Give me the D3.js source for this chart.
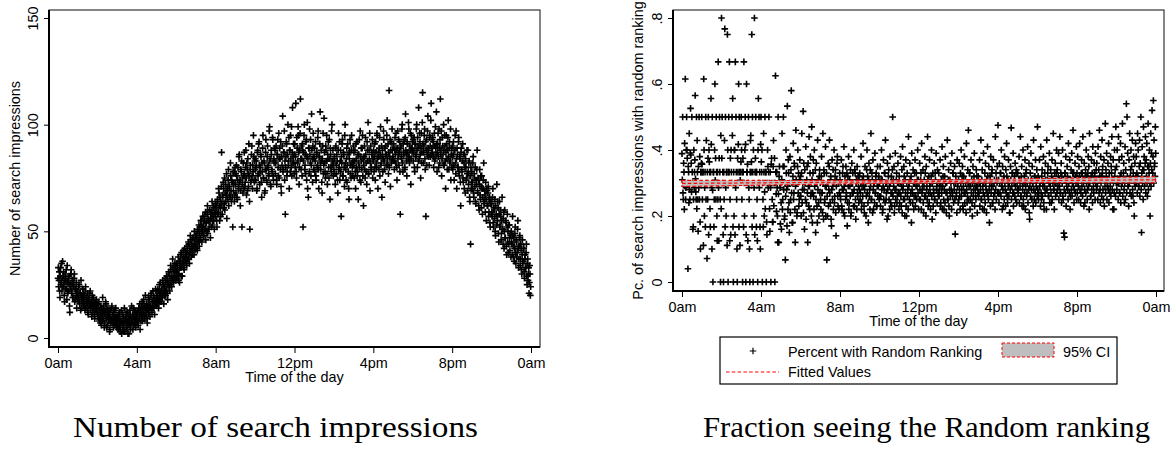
<!DOCTYPE html>
<html>

<head>
    <meta charset="utf-8">
    <style>
        body {
            margin: 0;
            background: #fff;
        }

        svg {
            display: block;
            font-family: 'Liberation Sans', Arial, sans-serif;
        }

        .tick text {
            font-size: 14.4px;
            fill: #000;
        }

        .tick line {
            stroke: #000;
        }

        .domain {
            display: none;
        }

        .axis-title,
        .legend-text {
            font-size: 14.4px;
            fill: #000;
        }

        .caption {
            font-family: 'Liberation Serif', 'DejaVu Serif', serif;
            font-size: 30px;
            fill: #000;
        }
    </style>
</head>

<body>
    <svg width="1173" height="451"></svg>

    <script src="https://d3js.org/d3.v7.min.js"></script>
    <script>
        // one observation per minute, 60 per row = one hour, starting at midnight
        let stepMinutes = 1

        // number of search impressions
        let impressions = [
            28,33,24,27,31,22,19,29,33,25,26,35,22,28,36,24,29,31,25,20,17,27,30,23,27,32,23,18,34,26,21,28,26,22,29,15,12,25,24,30,32,21,22,26,27,19,19,24,25,28,30,17,18,23,23,20,26,14,21,19, // 0am
            22,19,18,24,25,17,16,21,21,13,27,20,14,18,19,23,23,15,17,20,20,16,13,22,24,14,18,19,15,17,21,12,11,18,19,15,16,21,22,13,14,17,17,10,20,16,12,19,18,14,15,11,9,16,17,13,13,18,16,12,
            14,11,10,16,17,9,8,13,12,7,15,10,6,14,11,8,19,12,9,15,13,5,7,11,12,17,16,9,5,13,10,6,14,10,8,12,11,3,4,9,13,7,9,14,15,8,7,11,10,5,12,9,6,13,9,7,14,10,8,5,
            7,9,10,5,4,11,9,6,12,3,5,8,8,13,2,7,11,4,6,10,9,3,14,7,3,9,8,12,10,5,5,8,12,2,7,10,2,6,9,13,11,4,6,9,15,7,8,11,4,14,10,6,13,9,7,12,9,5,11,8,
            9,11,12,7,6,13,14,9,10,16,4,12,13,8,11,15,17,10,8,13,12,18,15,10,9,14,20,12,11,16,14,9,7,13,16,19,13,11,18,15,10,14,15,20,21,13,12,17,17,22,14,19,19,15,11,18,16,23,22,17, // 4am
            15,20,19,16,23,18,14,22,18,25,21,17,26,20,17,23,22,19,19,27,25,21,16,24,24,20,28,22,20,26,23,29,27,21,18,25,26,31,30,24,22,28,25,34,32,26,24,29,28,37,33,27,26,31,29,34,35,28,27,32,
            31,35,28,32,34,30,38,27,30,36,26,33,36,39,33,29,40,34,29,37,35,41,38,33,32,36,42,38,36,40,39,35,34,43,41,37,37,45,44,39,35,42,40,48,46,41,38,44,43,39,41,47,47,43,39,50,45,41,42,48,
            44,47,48,42,41,51,50,45,46,53,43,49,52,46,47,55,55,50,45,52,50,57,53,48,48,55,57,51,51,59,46,54,54,50,58,62,49,56,55,51,52,60,60,55,47,58,56,52,59,64,53,57,62,55,55,61,51,58,58,63,
            57,60,62,55,52,64,65,58,59,70,68,62,55,66,61,57,64,71,87,63,58,67,66,73,70,61,63,75,60,68,72,64,67,77,56,70,69,65,74,79,62,71,71,67,66,82,76,69,64,74,73,66,52,78,69,72,78,64,67,80, // 8am
            72,77,68,81,76,66,65,74,80,70,71,85,86,73,74,62,69,79,78,83,52,72,75,68,82,76,70,87,77,71,73,80,88,75,67,82,79,69,84,77,71,91,76,64,51,79,81,73,74,86,90,76,70,81,78,95,85,74,73,83,
            79,84,74,80,83,69,70,87,88,76,77,91,92,81,72,78,80,86,85,73,66,82,78,89,95,75,75,83,82,68,69,79,87,93,79,74,73,85,90,80,81,77,76,97,99,83,84,72,71,88,86,79,78,94,93,76,74,84,82,89,
            83,88,77,82,90,74,72,86,86,93,80,76,96,84,75,89,84,79,92,71,68,85,81,90,104,78,79,87,87,97,74,83,58,80,85,92,91,76,78,86,100,81,83,94,70,88,88,78,95,84,80,99,76,87,108,82,85,91,82,77,
            86,91,80,85,110,78,75,94,89,82,83,99,95,87,72,80,88,96,112,84,79,90,84,76,91,88,52,83,87,95,100,79,81,86,77,92,93,74,85,101,70,84,66,89,89,78,98,86,82,93,76,81,105,88,84,73,90,96,79,85, // 12pm
            84,89,78,83,92,76,74,86,87,80,81,94,97,79,70,85,85,91,106,82,79,88,83,73,68,84,90,96,77,81,103,87,82,78,75,90,88,83,95,77,72,86,84,92,80,75,93,84,65,89,86,80,78,97,100,83,81,88,76,82,
            79,84,85,77,72,89,90,81,77,86,83,74,68,88,96,79,80,92,74,83,88,78,57,85,82,91,93,76,76,87,86,80,71,95,100,82,79,74,84,89,73,81,91,86,78,70,65,84,87,93,81,77,75,88,95,82,80,76,83,90,
            81,87,75,83,88,78,70,91,84,80,92,76,78,86,65,82,86,93,80,74,97,85,73,89,83,79,89,95,76,84,62,81,85,90,79,75,94,86,82,78,72,92,88,83,101,77,77,88,84,96,69,82,90,79,80,87,86,93,75,84,
            83,88,78,85,91,80,74,92,87,82,80,96,95,84,70,87,85,79,89,94,76,86,99,81,82,90,66,85,88,78,84,97,93,83,79,89,73,86,90,81,86,95,102,84,81,91,77,87,116,80,85,93,71,88,92,82,83,98,88,84, // 4pm
            85,91,90,83,79,88,94,86,82,96,88,80,74,89,97,84,86,93,81,87,92,78,58,90,89,85,84,98,100,82,78,91,87,86,93,79,80,94,105,88,86,83,76,92,91,87,84,101,98,85,82,90,88,96,72,84,95,89,87,92,
            88,93,83,87,94,80,78,91,91,85,86,98,100,88,80,94,89,83,108,90,84,96,92,86,75,89,96,82,87,101,115,91,82,87,90,95,98,84,79,92,57,88,93,81,86,97,104,89,88,85,81,94,95,90,85,102,110,86,89,93,
            87,94,92,85,80,90,96,83,84,99,89,86,106,91,78,87,91,96,85,80,98,89,82,93,112,86,88,97,76,84,94,90,86,81,100,88,81,95,90,83,70,87,95,91,84,79,88,94,102,85,79,89,92,82,83,98,74,86,89,80,
            85,90,79,86,92,81,74,88,88,95,82,77,97,84,70,89,86,80,80,92,94,78,76,85,84,73,62,87,89,79,78,83,91,75,73,86,82,70,86,80,68,84,80,74,75,88,77,69,88,78,72,82,83,66,64,76,44,80,70,73, // 8pm
            78,73,70,82,85,68,66,77,75,71,80,64,63,74,72,79,88,69,68,75,74,62,60,72,79,67,65,76,71,61,76,70,58,66,70,74,82,63,64,69,67,59,73,65,55,70,69,62,62,68,71,57,59,65,66,54,52,63,64,58,
            63,59,57,66,70,54,52,61,60,56,65,50,48,62,58,53,72,57,55,64,61,49,45,58,64,52,53,60,57,46,49,55,66,51,51,44,56,59,42,50,60,47,47,55,54,43,39,52,58,45,50,40,44,53,53,47,41,49,48,38,
            50,45,44,39,57,48,38,43,47,36,42,49,52,40,35,46,45,38,40,51,55,42,33,37,43,47,48,34,37,44,41,32,30,39,46,35,36,42,42,31,28,37,39,33,33,40,44,29,25,35,37,27,30,33,21,26,34,30,20,24
        ]

        // share of those impressions that got the random ranking
        let randomShare = [
            .389,.31,.5,.27,.25,.36,.333,.22,.42,.29,.615,.25,.286,.4,.5,.4,.375,.3,.04,.35,.333,.24,.45,.28,.25,.391,.526,.385,.36,.273,.5,.333,.3,.16,.167,.25,.4,.286,.333,.37,.565,.313,.273,.25,.5,.222,.429,.333,.25,.154,.35,.286,.5,.25,.38,.182,.1,.333,.333,.36, // 0am
            .5,.357,.25,.333,.333,.111,.615,.4,.2,.286,.333,.167,.5,.25,.429,.3,.071,.333,.25,.375,.5,.143,.4,.364,.333,.222,.167,.333,.556,.417,.286,.1,.5,.278,0,.333,.333,.167,.25,.4,.6,.308,.375,.25,.5,.333,.2,.125,.333,.25,.667,.286,.125,.375,.5,.333,.25,0,.444,.222,
            .8,.375,.5,.3,.333,.143,0,.333,.25,.429,.767,.167,.5,.286,.2,.333,.333,.111,.75,.4,0,.333,.5,.333,.667,.125,.25,.375,.143,.4,.333,.3,.5,.444,.556,.167,0,.333,.2,.4,.4,.143,.667,.286,.5,.333,.25,.1,0,.375,.333,.417,.6,.167,.5,.333,.111,.308,.333,.364,
            .5,.4,.25,.333,0,.375,.333,.167,.667,.3,.2,.4,.5,.417,0,.143,.6,.333,.333,.357,.125,.3,.5,.286,.25,.1,0,.333,.429,.444,.333,.364,.75,.167,.5,.333,0,.4,.2,.286,.8,.143,.333,.375,.5,.333,.167,.333,.25,.125,0,.4,.556,.3,.5,.286,.333,.167,.1,.417,
            .5,.364,.333,.4,0,.3,.25,.167,.45,.333,.2,.273,.5,.222,.333,.333,0,.182,.143,.3,.4,.35,.286,.333,.5,.3,.222,.154,.333,.286,0,.357,.375,.3,.25,.182,.182,.35,.429,.231,.3,.375,0,.3,.625,.333,.267,.214,.333,.286,.2,.12,.5,.267,.12,.32,.35,.3,.286,.176, // 4am
            .3,.24,.16,.31,.45,.22,.25,.35,.5,.28,.35,.19,.2,.3,.067,.26,.4,.33,.28,.17,.533,.29,.22,.37,.33,.24,.15,.3,.38,.21,.25,.34,.58,.27,.3,.18,.18,.32,.42,.25,.27,.36,.35,.22,.12,.29,.46,.31,.3,.2,.21,.35,.4,.27,.33,.23,.25,.31,.37,.26,
            .32,.26,.2,.33,.45,.24,.28,.3,.517,.21,.36,.28,.16,.34,.3,.25,.41,.19,.24,.31,.35,.27,.12,.36,.29,.23,.44,.29,.22,.33,.38,.26,.27,.2,.47,.31,.18,.27,.33,.37,.26,.22,.4,.29,.3,.34,.15,.25,.36,.3,.23,.18,.43,.28,.31,.24,.2,.32,.34,.27,
            .3,.25,.22,.32,.38,.27,.27,.21,.45,.3,.19,.34,.33,.24,.25,.29,.41,.2,.29,.33,.067,.26,.2,.3,.36,.23,.28,.35,.43,.27,.24,.31,.32,.19,.17,.28,.37,.25,.29,.34,.22,.3,.4,.24,.26,.32,.34,.21,.14,.29,.31,.36,.38,.26,.23,.3,.3,.22,.27,.33,
            .31,.26,.25,.3,.37,.23,.22,.28,.33,.35,.28,.21,.41,.29,.2,.32,.3,.25,.35,.27,.26,.33,.17,.24,.32,.29,.38,.22,.24,.31,.29,.26,.34,.2,.21,.3,.36,.27,.3,.33,.27,.23,.4,.28,.23,.34,.33,.25,.19,.3,.31,.22,.35,.27,.26,.32,.29,.24,.32,.28, // 8am
            .33,.25,.27,.3,.38,.22,.24,.29,.31,.26,.42,.32,.29,.23,.21,.28,.35,.3,.3,.2,.26,.34,.4,.27,.32,.24,.18,.31,.36,.26,.28,.22,.34,.29,.45,.25,.25,.33,.31,.21,.37,.28,.22,.3,.3,.24,.39,.27,.27,.32,.33,.23,.23,.29,.35,.26,.29,.31,.32,.25,
            .3,.26,.35,.23,.26,.31,.4,.28,.31,.21,.22,.29,.37,.25,.28,.33,.33,.24,.43,.3,.25,.27,.3,.19,.36,.28,.2,.32,.34,.25,.29,.22,.38,.3,.24,.27,.32,.23,.27,.34,.5,.26,.31,.29,.35,.21,.23,.28,.39,.25,.28,.31,.33,.24,.26,.3,.36,.27,.3,.22,
            .32,.24,.27,.3,.38,.26,.23,.29,.34,.21,.41,.28,.29,.25,.35,.32,.25,.2,.31,.27,.37,.23,.2,.3,.33,.26,.28,.22,.44,.29,.3,.25,.36,.31,.24,.27,.32,.18,.39,.28,.27,.24,.34,.3,.22,.26,.3,.33,.37,.23,.26,.29,.33,.25,.29,.31,.4,.27,.31,.22,
            .3,.25,.36,.28,.25,.31,.33,.22,.42,.27,.28,.3,.34,.24,.21,.29,.31,.26,.38,.33,.26,.2,.35,.28,.29,.25,.44,.31,.23,.27,.32,.24,.37,.29,.27,.22,.3,.32,.4,.26,.19,.3,.33,.23,.28,.27,.36,.25,.25,.33,.31,.21,.39,.28,.29,.24,.34,.3,.27,.26, // 12pm
            .33,.26,.28,.3,.37,.23,.24,.29,.31,.27,.41,.22,.29,.32,.35,.25,.22,.28,.32,.24,.38,.3,.27,.21,.3,.27,.43,.25,.25,.31,.34,.23,.2,.28,.31,.26,.36,.3,.28,.22,.39,.27,.26,.33,.33,.24,.3,.28,.35,.25,.145,.3,.32,.26,.27,.21,.37,.29,.3,.24,
            .31,.25,.36,.28,.26,.22,.33,.3,.4,.26,.28,.32,.35,.23,.22,.29,.32,.27,.38,.24,.27,.31,.3,.21,.42,.28,.24,.26,.34,.3,.46,.25,.29,.33,.33,.22,.25,.29,.37,.27,.31,.24,.2,.3,.35,.26,.28,.32,.39,.23,.3,.28,.26,.25,.34,.29,.32,.21,.29,.27,
            .32,.26,.27,.3,.37,.23,.3,.28,.43,.25,.25,.31,.34,.22,.29,.27,.39,.3,.22,.26,.33,.24,.36,.29,.28,.21,.31,.27,.41,.32,.26,.25,.35,.28,.18,.3,.32,.23,.38,.27,.29,.33,.34,.24,.24,.29,.37,.26,.3,.31,.27,.22,.44,.28,.33,.25,.31,.3,.35,.27,
            .475,.27,.31,.24,.36,.3,.27,.33,.33,.26,.4,.29,.29,.22,.35,.28,.23,.31,.32,.25,.38,.3,.28,.23,.34,.27,.42,.32,.26,.24,.31,.29,.37,.26,.3,.21,.21,.28,.35,.31,.467,.25,.29,.33,.33,.27,.39,.23,.27,.3,.32,.26,.36,.29,.25,.33,.34,.24,.3,.28, // 4pm
            .33,.27,.28,.31,.38,.24,.31,.29,.44,.26,.26,.32,.35,.23,.3,.28,.4,.25,.23,.3,.32,.27,.37,.22,.29,.33,.34,.26,.27,.3,.41,.24,.31,.28,.36,.21,.19,.29,.33,.26,.39,.31,.28,.25,.35,.3,.3,.23,.43,.28,.25,.32,.32,.27,.37,.24,.29,.31,.34,.26,
            .47,.28,.32,.25,.27,.31,.37,.29,.3,.23,.41,.27,.25,.32,.34,.26,.29,.3,.38,.24,.22,.29,.33,.27,.36,.31,.28,.22,.43,.28,.31,.33,.35,.26,.26,.3,.39,.24,.3,.29,.34,.27,.24,.32,.37,.25,.31,.3,.45,.28,.28,.22,.33,.3,.36,.26,.3,.33,.4,.27,
            .34,.28,.29,.32,.39,.25,.31,.29,.44,.27,.27,.33,.36,.24,.32,.3,.4,.26,.25,.31,.148,.28,.136,.33,.33,.27,.38,.23,.3,.29,.35,.32,.28,.25,.42,.3,.31,.27,.37,.22,.26,.31,.34,.28,.39,.26,.3,.33,.46,.29,.33,.24,.28,.31,.36,.27,.32,.3,.41,.25,
            .33,.27,.38,.3,.29,.25,.35,.32,.42,.28,.31,.24,.27,.33,.37,.29,.33,.26,.44,.31,.3,.23,.36,.28,.24,.32,.34,.27,.4,.3,.32,.25,.28,.33,.38,.29,.35,.22,.45,.3,.31,.26,.26,.32,.37,.28,.33,.24,.41,.31,.29,.27,.36,.33,.32,.25,.39,.3,.34,.28, // 8pm
            .36,.29,.3,.25,.41,.31,.34,.27,.46,.32,.28,.24,.38,.3,.32,.26,.43,.33,.35,.28,.25,.31,.37,.23,.31,.29,.48,.27,.34,.32,.39,.25,.29,.3,.36,.28,.42,.24,.33,.31,.27,.29,.38,.26,.35,.33,.44,.28,.31,.22,.37,.3,.22,.27,.4,.32,.34,.26,.47,.3,
            .35,.28,.4,.31,.3,.25,.44,.3,.37,.27,.27,.32,.42,.24,.33,.29,.38,.3,.48,.26,.31,.33,.36,.28,.24,.3,.41,.25,.34,.31,.54,.27,.5,.32,.39,.29,.29,.23,.37,.3,.45,.27,.32,.34,.4,.26,.35,.31,.43,.28,.26,.33,.38,.24,.2,.3,.36,.29,.42,.32,
            .38,.3,.33,.27,.45,.32,.4,.29,.29,.35,.43,.26,.36,.31,.5,.28,.15,.33,.41,.3,.34,.25,.47,.34,.38,.29,.3,.36,.44,.27,.37,.32,.42,.3,.26,.35,.48,.28,.35,.33,.4,.3,.2,.36,.45,.29,.39,.34,.52,.31,.33,.38,.55,.3,.43,.35,.36,.32,.47,.39
        ]

        let hourTicks = [0, 4, 8, 12, 16, 20, 24]
        let hourLabels = ["0am", "4am", "8am", "12pm", "4pm", "8pm", "0am"]
        let countTicks = [0, 50, 100, 150]
        let shareTicks = [0, .2, .4, .6, .8]
        let shareTickLabels = ["0", ".2", ".4", ".6", ".8"]
        let legendLabels = ["Percent with Random Ranking", "95% CI", "Fitted Values"]
        let captions = ["Number of search impressions", "Fraction seeing the Random ranking"]

        let countPoints = impressions.map((v, i) => ({ hour: i * stepMinutes / 60, value: v }))
        let sharePoints = randomShare.map((v, i) => ({ hour: i * stepMinutes / 60, value: v }))

        let svg = d3.select("svg")
        let plus = "M-3.3,0H3.3M0,-3.3V3.3"

        // draws box, axes and titles of one Stata-style panel
        function drawFrame(box, x, y, yTicks, yFormat, yTitle, yTitleX) {
            let g = svg.append("g")

            g.append("rect")
                .attr("x", box.left)
                .attr("y", box.top)
                .attr("width", box.right - box.left)
                .attr("height", box.bottom - box.top)
                .attr("fill", "none")
                .attr("stroke", "#333")
                .attr("stroke-width", 1.2)

            g.append("path")
                .attr("d", `M${box.left},${box.top}V${box.bottom}H${box.right}`)
                .attr("fill", "none")
                .attr("stroke", "#000")
                .attr("stroke-width", 2)

            g.append("g")
                .attr("class", "x axis")
                .attr("transform", `translate(0,${box.bottom})`)
                .call(d3.axisBottom(x)
                    .tickValues(hourTicks)
                    .tickFormat((d, i) => hourLabels[i])
                    .tickSize(6)
                    .tickPadding(5))

            g.append("g")
                .attr("class", "y axis")
                .attr("transform", `translate(${box.left},0)`)
                .call(d3.axisLeft(y)
                    .tickValues(yTicks)
                    .tickFormat(yFormat)
                    .tickSize(5))
                .call(a => a.selectAll(".tick text")
                    .attr("x", 0)
                    .attr("y", -11)
                    .attr("dy", 0)
                    .attr("transform", "rotate(-90)")
                    .style("text-anchor", "middle"))

            g.append("text")
                .attr("class", "axis-title")
                .attr("x", (box.left + box.right) / 2)
                .attr("y", box.bottom + 35)
                .attr("text-anchor", "middle")
                .text("Time of the day")

            g.append("text")
                .attr("class", "axis-title")
                .attr("transform", `translate(${yTitleX},${(box.top + box.bottom) / 2}) rotate(-90)`)
                .attr("text-anchor", "middle")
                .text(yTitle)
        }

        // ---- left panel: number of impressions
        let boxL = { left: 49, right: 540, top: 10, bottom: 347 }
        let xL = d3.scaleLinear().domain([0, 24]).range([58, 531])
        let yL = d3.scaleLinear().domain([0, 150]).range([338, 18])

        drawFrame(boxL, xL, yL, countTicks, d => d, "Number of search impressions", 20)

        svg.append("g")
            .selectAll("path")
            .data(countPoints)
            .join("path")
            .attr("transform", d => `translate(${xL(d.hour)},${yL(d.value)})`)
            .attr("d", plus)
            .attr("stroke", "#000")
            .attr("stroke-width", 1.6)

        // ---- right panel: share with random ranking
        let boxR = { left: 673, right: 1164, top: 10, bottom: 291 }
        let xR = d3.scaleLinear().domain([0, 24]).range([682, 1156])
        let yR = d3.scaleLinear().domain([0, .8]).range([282, 18])

        drawFrame(boxR, xR, yR, shareTicks, (d, i) => shareTickLabels[i],
            "Pc. of search impressions with random ranking", 643)

        svg.append("g")
            .selectAll("path")
            .data(sharePoints)
            .join("path")
            .attr("transform", d => `translate(${xR(d.hour)},${yR(d.value)})`)
            .attr("d", plus)
            .attr("stroke", "#000")
            .attr("stroke-width", 1.6)

        // least squares fit with 95% CI of the mean
        let n = sharePoints.length
        let mx = d3.mean(sharePoints, d => d.hour)
        let my = d3.mean(sharePoints, d => d.value)
        let sxx = d3.sum(sharePoints, d => (d.hour - mx) ** 2)
        let sxy = d3.sum(sharePoints, d => (d.hour - mx) * (d.value - my))
        let slope = sxy / sxx
        let intercept = my - slope * mx
        let sres = Math.sqrt(d3.sum(sharePoints, d => (d.value - intercept - slope * d.hour) ** 2) / (n - 2))
        let lastHour = sharePoints[n - 1].hour

        let fit = d3.range(0, 41).map(k => {
            let h = lastHour * k / 40
            let f = intercept + slope * h
            let se = sres * Math.sqrt(1 / n + (h - mx) ** 2 / sxx)
            return { hour: h, fit: f, lo: f - 1.96 * se, hi: f + 1.96 * se }
        })

        let ciArea = d3.area()
            .x(d => xR(d.hour))
            .y0(d => yR(d.lo))
            .y1(d => yR(d.hi))

        svg.append("path")
            .datum(fit)
            .attr("d", ciArea)
            .attr("fill", "#bebebe")
            .attr("stroke", "#ff0000")
            .attr("stroke-width", 1.2)
            .attr("stroke-dasharray", "3.5,2.3")

        svg.append("path")
            .datum(fit)
            .attr("d", d3.line().x(d => xR(d.hour)).y(d => yR(d.fit)))
            .attr("fill", "none")
            .attr("stroke", "#ff0000")
            .attr("stroke-width", 1.2)
            .attr("stroke-dasharray", "3.5,2.3")

        // ---- legend
        let legend = svg.append("g")

        legend.append("rect")
            .attr("x", 720)
            .attr("y", 337)
            .attr("width", 397)
            .attr("height", 47)
            .attr("fill", "#fff")
            .attr("stroke", "#000")
            .attr("stroke-width", 1.2)

        legend.append("path")
            .attr("transform", "translate(753,351)")
            .attr("d", plus)
            .attr("stroke", "#000")
            .attr("stroke-width", 1.2)

        legend.append("rect")
            .attr("x", 1002)
            .attr("y", 343)
            .attr("width", 52)
            .attr("height", 14)
            .attr("fill", "#bebebe")
            .attr("stroke", "#ff0000")
            .attr("stroke-width", 1)
            .attr("stroke-dasharray", "3,2")

        legend.append("line")
            .attr("x1", 726)
            .attr("x2", 779)
            .attr("y1", 372)
            .attr("y2", 372)
            .attr("stroke", "#ff0000")
            .attr("stroke-width", 1)
            .attr("stroke-dasharray", "3.5,2.3")

        legend.append("text").attr("class", "legend-text")
            .attr("x", 788).attr("y", 357).text(legendLabels[0])
        legend.append("text").attr("class", "legend-text")
            .attr("x", 1063).attr("y", 357).text(legendLabels[1])
        legend.append("text").attr("class", "legend-text")
            .attr("x", 788).attr("y", 377).text(legendLabels[2])

        // ---- captions under each panel
        svg.selectAll(".caption")
            .data(captions)
            .join("text")
            .attr("class", "caption")
            .attr("x", (d, i) => i === 0 ? 275.5 : 926.5)
            .attr("y", 437)
            .attr("text-anchor", "middle")
            .attr("textLength", (d, i) => i === 0 ? 405 : 447)
            .attr("lengthAdjust", "spacingAndGlyphs")
            .text(d => d)
    </script>
</body>

</html>
